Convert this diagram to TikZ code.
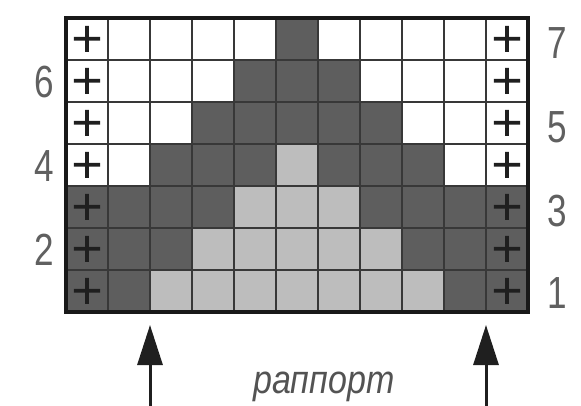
\documentclass[tikz,border=0pt]{standalone}
\usepackage{fontspec}
\setmainfont{Liberation Sans}
\newfontfamily\condfont[FakeStretch=0.78]{Liberation Sans}
\newfontfamily\condital[FakeStretch=0.85]{Liberation Sans Italic}
\newfontfamily\plusfont[FakeBold=4]{Noto Sans CJK SC}
\usetikzlibrary{arrows.meta}
\definecolor{c0}{gray}{1}
\definecolor{c1}{gray}{0.74}
\definecolor{c2}{gray}{0.37}
\definecolor{gridline}{gray}{0.22}
\definecolor{inkc}{gray}{0.12}
\tikzset{
  cellbox/.style={draw=gridline, line width=1.6pt, minimum width=42pt, minimum height=42pt, inner sep=0pt, outer sep=0pt},
  plusmark/.style={inner sep=0pt, text=inkc, font=\plusfont\fontsize{34}{34}\selectfont},
  rownum/.style={inner sep=0pt, text=gray!75!black, font=\condfont\fontsize{45}{45}\selectfont},
  rapp/.style={inner sep=0pt, text=gray!65!black, font=\condital\fontsize{40}{40}\selectfont},
  reparrow/.style={line width=3pt, draw=inkc, -{Triangle[length=40pt,width=25pt]}},
}
\begin{document}
\begin{tikzpicture}[x=1pt,y=-1pt]
\useasboundingbox (0,0) rectangle (581,406);
% cells
\foreach \rowlist [count=\r] in {
  {0,0,0,0,0,2,0,0,0,0,0},
  {0,0,0,0,2,2,2,0,0,0,0},
  {0,0,0,2,2,2,2,2,0,0,0},
  {0,0,2,2,2,1,2,2,2,0,0},
  {2,2,2,2,1,1,1,2,2,2,2},
  {2,2,2,1,1,1,1,1,2,2,2},
  {2,2,1,1,1,1,1,1,1,2,2}} {
  \foreach \v [count=\c] in \rowlist {
    \node[cellbox, fill=c\v] (cell-\r-\c) at ({45+42*\c},{-3+42*\r}) {};
  }
  \node[plusmark] (pl-\r) at (cell-\r-1) {＋};
  \node[plusmark] (pr-\r) at (cell-\r-11) {＋};
}
% outer border
\draw[line width=4pt, draw=black!90] (cell-1-1.north west) rectangle (cell-7-11.south east);
% row numbers
\node[rownum] (n7) at (557,43) {7};
\node[rownum] (n5) at (557,127) {5};
\node[rownum] (n3) at (557,211) {3};
\node[rownum] (n1) at (557,293) {1};
\node[rownum] (n6) at (44,82) {6};
\node[rownum] (n4) at (44,166) {4};
\node[rownum] (n2) at (44,250) {2};
% rapport arrows
\coordinate (la-tip) at ([yshift=-13pt]cell-7-2.south east);
\coordinate (la-end) at (la-tip |- 0,406);
\coordinate (ra-tip) at ([yshift=-13pt]cell-7-10.south east);
\coordinate (ra-end) at (ra-tip |- 0,406);
\draw[reparrow] (la-end) -- (la-tip);
\draw[reparrow] (ra-end) -- (ra-tip);
\node[rapp, anchor=base] (rtext) at (324,393) {раппорт};
\end{tikzpicture}
\end{document}
